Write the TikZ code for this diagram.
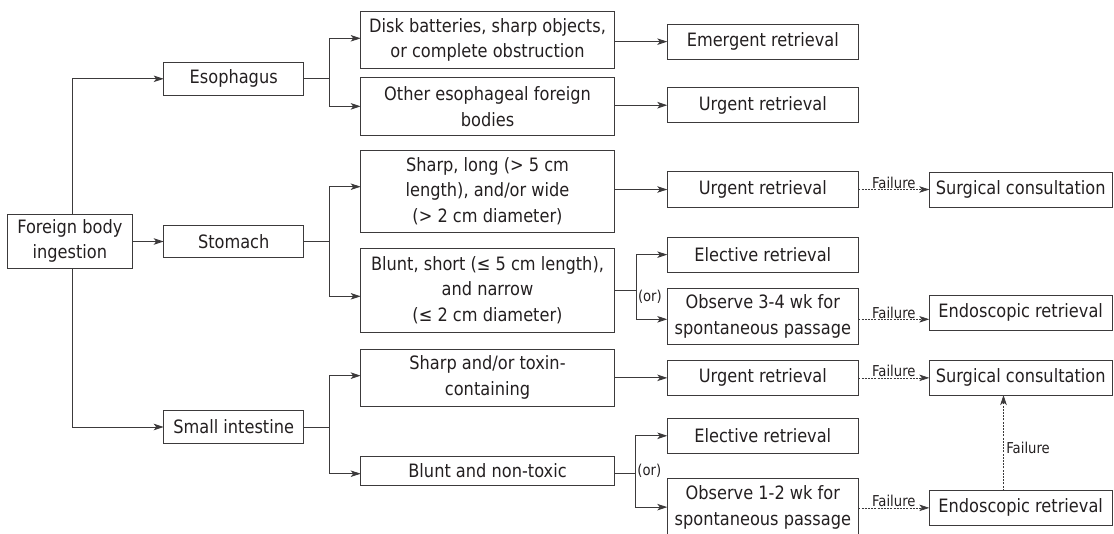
\documentclass[tikz,border=0pt]{standalone}
\usepackage{fontspec}
\usetikzlibrary{arrows.meta,calc}
\newfontfamily\diafont{DejaVu Sans}[FakeStretch=0.88]
\definecolor{linec}{HTML}{3C3A3B}
\definecolor{txtc}{HTML}{231F20}
\newcommand{\bigf}{\diafont\fontsize{18.4}{25.7}\selectfont}
\newcommand{\smallf}{\diafont\fontsize{15}{17}\selectfont}
\tikzset{
  box/.style={draw=linec, line width=0.9pt, inner sep=0pt, outer sep=0pt,
    align=center, font=\bigf, text=txtc},
  arr/.style={draw=linec, line width=0.9pt, -{Stealth[length=10pt,width=6.5pt,inset=2.5pt]}},
  ln/.style={draw=linec, line width=0.9pt},
  dsh/.style={draw=linec, line width=0.7pt, dash pattern=on 2pt off 1.2pt,
    -{Stealth[length=10pt,width=6.5pt,inset=2.5pt]}},
  lab/.style={font=\smallf, text=txtc, inner sep=1.5pt}
}
\newcommand{\bx}[6]{\node[box, minimum width=#4pt, minimum height=#5pt] (#1) at (#2,#3) {#6};}
\begin{document}
\begin{tikzpicture}[x=1pt,y=-1pt]
\useasboundingbox (0,0) rectangle (1114,533);
% column 1
\bx{fbi}{69.85}{241}{124.3}{54}{Foreign body\\ingestion}
% column 2
\bx{eso}{233.7}{78.8}{140}{33}{Esophagus}
\bx{sto}{233.7}{241.5}{140}{32.4}{Stomach}
\bx{si}{233.7}{427}{140}{32.6}{Small intestine}
% column 3
\bx{disk}{487.5}{40}{253.6}{56.6}{Disk batteries, sharp objects,\\or complete obstruction}
\bx{other}{487.5}{106.35}{253.6}{57.3}{Other esophageal foreign\\bodies}
\bx{sharp}{487.5}{191.15}{253.6}{82.3}{Sharp, long (> 5 cm\\length), and/or wide\\(> 2 cm diameter)}
\bx{blunt}{487.5}{290.15}{253.6}{83.7}{Blunt, short (≤ 5 cm length),\\and narrow\\(≤ 2 cm diameter)}
\bx{sharpSI}{487.5}{377.65}{253.6}{57.3}{Sharp and/or toxin-\\containing}
\bx{bluntSI}{487.5}{470.85}{253.6}{28.3}{Blunt and non-toxic}
% column 4
\bx{emer}{762.8}{41.65}{191}{35.3}{Emergent retrieval}
\bx{urgE}{762.8}{105.2}{191}{35}{Urgent retrieval}
\bx{urgS}{762.8}{189.5}{191}{35.6}{Urgent retrieval}
\bx{elecS}{762.8}{254.65}{191}{35.3}{Elective retrieval}
\bx{obsS}{762.8}{316.15}{191}{55.7}{Observe 3-4 wk for\\spontaneous passage}
\bx{urgSI}{762.8}{377.85}{191}{34.3}{Urgent retrieval}
\bx{elecSI}{762.8}{435.8}{191}{35}{Elective retrieval}
\bx{obsSI}{762.8}{507.15}{191}{57.7}{Observe 1-2 wk for\\spontaneous passage}
% column 5
\bx{surgS}{1020.65}{189.65}{182.7}{35.3}{Surgical consultation}
\bx{endoS}{1020.65}{312.65}{182.7}{34.7}{Endoscopic retrieval}
\bx{surgSI}{1020.65}{377.85}{182.7}{34.3}{Surgical consultation}
\bx{endoSI}{1020.65}{507.85}{182.7}{34.3}{Endoscopic retrieval}
% trunk from foreign body
\coordinate (trunk) at (72.7,241);
\draw[arr] (fbi.north -| trunk) |- (eso.west);
\draw[arr] (fbi.east |- sto.west) -- (sto.west);
\draw[arr] (fbi.south -| trunk) |- (si.west);
% esophagus branch
\coordinate (b1) at (329,78.8);
\draw[ln] (eso.east) -- (b1);
\draw[arr] (b1) |- ([yshift=1.7pt]disk.west);
\draw[arr] (b1) |- (other.west);
% stomach branch
\coordinate (b2) at (329,241.5);
\draw[ln] (sto.east) -- (b2);
\draw[arr] (b2) |- ([yshift=4.45pt]sharp.west);
\draw[arr] (b2) |- ([yshift=-6.15pt]blunt.west);
% small intestine branch
\coordinate (b3) at (329,427);
\draw[ln] (si.east) -- (b3);
\draw[arr] (b3) |- ([yshift=2pt]sharpSI.west);
\draw[arr] (b3) |- ([yshift=-2.85pt]bluntSI.west);
% to column 4
\draw[arr] (disk.east |- emer.west) -- (emer.west);
\draw[arr] (other.east |- urgE.west) -- (urgE.west);
\draw[arr] (sharp.east |- urgS.west) -- (urgS.west);
\coordinate (b4) at (636.3,290.15);
\draw[ln] (blunt.east) -- (b4);
\draw[arr] (b4) |- (elecS.west);
\draw[arr] (b4) |- ([yshift=-3.15pt]obsS.west);
\node[lab, anchor=west] (or1) at (636.3,296.7) {(or)};
\draw[arr] (sharpSI.east |- urgSI.west) -- (urgSI.west);
\coordinate (b5) at (635.7,473.3);
\draw[ln] (bluntSI.east |- b5) -- (b5);
\draw[arr] (b5) |- (elecSI.west);
\draw[arr] (b5) |- (obsSI.west);
\node[lab, anchor=west] (or2) at (635.7,470.5) {(or)};
% failures
\draw[dsh] (urgS.east) -- (urgS.east -| surgS.west) node[lab, midway, above, yshift=-1pt] (f1) {Failure};
\coordinate (o1) at ([yshift=-3.15pt]obsS.east);
\draw[dsh] (o1) -- (o1 -| endoS.west) node[lab, midway, above, yshift=-1pt] (f2) {Failure};
\draw[dsh] (urgSI.east) -- (urgSI.east -| surgSI.west) node[lab, midway, above, yshift=-1pt] (f3) {Failure};
\draw[dsh] (obsSI.east |- endoSI.west) -- (endoSI.west) node[lab, midway, above, yshift=-1pt] (f4) {Failure};
\coordinate (vx) at (1003.5,440);
\draw[dsh] (endoSI.north -| vx) -- (surgSI.south -| vx) node[lab, pos=0.45, right, xshift=1pt] (f5) {Failure};
\end{tikzpicture}
\end{document}
